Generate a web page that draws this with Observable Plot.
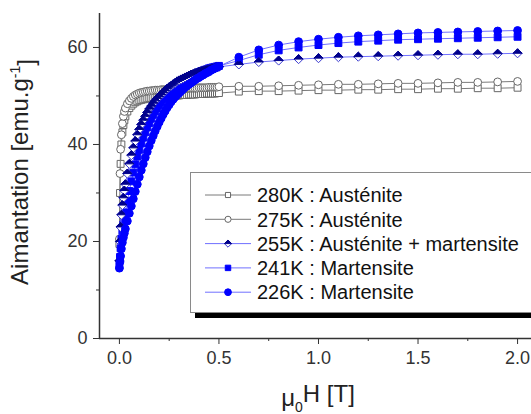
<!DOCTYPE html>
<html><head><meta charset="utf-8">
<script src="https://cdn.jsdelivr.net/npm/d3@7"></script>
<script src="https://cdn.jsdelivr.net/npm/@observablehq/plot@0.6"></script>
<style>body{margin:0;background:#fff}#chart{position:relative;width:531px;height:414px;overflow:hidden}</style>
</head><body><div id="chart"></div>
<script>
// Applied field mu0H [T]
const fieldT = [0,0.003,0.006,0.01,0.015,0.02,0.025,0.03,
  0.04,0.05,0.06,0.07,0.08,0.09,0.10,
  0.11,0.12,0.13,0.14,0.15,0.16,0.17,0.18,0.19,0.20,
  0.21,0.22,0.23,0.24,0.25,0.26,0.27,0.28,0.29,0.30,
  0.31,0.32,0.33,0.34,0.35,0.36,0.37,0.38,0.39,0.40,
  0.41,0.42,0.43,0.44,0.45,0.46,0.47,0.48,0.49,0.50,
  0.6,0.7,0.8,0.9,1.0,1.1,1.2,1.3,1.4,1.5,1.6,1.7,1.8,1.9,2.0];
// Magnetization [emu/g]
const m280 = [19.5,30.0,36.0,40.0,42.5,44.0,45.0,45.8,
  46.8,47.5,48.0,48.4,48.7,48.9,49.1,
  49.2,49.3,49.4,49.5,49.6,49.6,49.7,49.7,49.8,49.8,
  49.9,49.9,49.9,50.0,50.0,50.0,50.1,50.1,50.1,50.1,
  50.2,50.2,50.2,50.2,50.3,50.3,50.3,50.3,50.4,50.4,
  50.4,50.4,50.4,50.5,50.5,50.5,50.5,50.5,50.6,50.6,
  50.9,51.0,51.0,51.1,51.2,51.2,51.3,51.3,51.4,51.4,51.5,51.5,51.6,51.6,51.7];
const m275 = [20.5,34.0,39.0,42.0,44.3,45.8,46.8,47.5,
  48.4,49.0,49.5,49.9,50.2,50.4,50.6,
  50.7,50.8,50.9,51.0,51.0,51.1,51.1,51.2,51.2,51.2,
  51.3,51.3,51.3,51.3,51.4,51.4,51.4,51.4,51.4,51.5,
  51.5,51.5,51.5,51.5,51.6,51.6,51.6,51.6,51.6,51.7,
  51.7,51.7,51.7,51.7,51.8,51.8,51.8,51.8,51.8,51.9,
  52.0,52.0,52.1,52.2,52.3,52.4,52.4,52.5,52.6,52.6,52.7,52.8,52.8,52.9,53.0];
const m255 = [16.0,20.0,23.0,25.5,27.5,29.0,30.5,31.8,
  34.0,36.0,37.8,39.3,40.7,42.0,43.1,
  44.1,45.0,45.8,46.6,47.3,47.9,48.5,49.0,49.5,49.9,
  50.3,50.7,51.1,51.5,51.8,52.1,52.4,52.7,53.0,53.2,
  53.4,53.6,53.8,54.0,54.2,54.4,54.5,54.7,54.8,55.0,
  55.1,55.2,55.3,55.4,55.5,55.6,55.7,55.8,55.9,56.0,
  56.5,57.0,57.3,57.6,57.8,58.0,58.1,58.2,58.3,58.4,58.5,58.6,58.6,58.7,58.8];
const m241 = [15.0,16.8,18.6,20.5,22.1,23.5,24.8,26.0,
  28.3,30.4,32.4,34.2,35.9,37.5,38.9,
  40.2,41.4,42.5,43.5,44.4,45.3,46.1,46.8,47.5,48.1,
  48.7,49.3,49.8,50.3,50.7,51.1,51.5,51.9,52.2,52.5,
  52.8,53.1,53.4,53.6,53.9,54.1,54.3,54.5,54.7,54.9,
  55.1,55.2,55.4,55.5,55.7,55.8,55.9,56.0,56.1,56.2,
  57.3,58.5,59.4,60.0,60.5,60.9,61.2,61.4,61.6,61.7,61.8,61.9,62.0,62.1,62.2];
const m226 = [14.5,15.8,17.0,18.5,19.8,20.8,21.7,22.6,
  24.2,25.8,27.3,28.8,30.3,31.8,33.3,
  34.7,36.0,37.3,38.5,39.7,40.8,41.8,42.8,43.7,44.6,
  45.4,46.2,46.9,47.6,48.2,48.8,49.3,49.8,50.2,50.6,
  51.0,51.4,51.8,52.1,52.4,52.7,53.0,53.3,53.6,53.8,
  54.1,54.3,54.6,54.8,55.0,55.3,55.5,55.7,55.9,56.1,
  58.0,59.5,60.5,61.2,61.7,62.1,62.4,62.6,62.8,63.0,63.1,63.2,63.3,63.4,63.5];

const seriesNames = ["280K : Austénite","275K : Austénite","255K : Austénite + martensite","241K : Martensite","226K : Martensite"];
const yTicks = [0,20,40,60];
const yMinorTicks = [10,30,50];
const xTicks = [0,0.5,1,1.5,2];
const xMinorTicks = [0.25,0.75,1.25,1.75];

const rows = vals => fieldT.map((h,i)=>({h, m: vals[i]}));

const diamondSym = {draw(ctx,size){const r=Math.sqrt(size)*0.66;ctx.moveTo(0,-r);ctx.lineTo(r,0);ctx.lineTo(0,r);ctx.lineTo(-r,0);ctx.closePath();}};
const halfTopSym = {draw(ctx,size){const r=Math.sqrt(size)*0.66;ctx.moveTo(0,-r);ctx.lineTo(r,0);ctx.lineTo(-r,0);ctx.closePath();}};

const GRAY_LINE="#7a7a7a", GRAY_MK="#666", BLUE="#0000ff", BLUE_LINE="#7070ff", NAVY="#00008c", DIA_STROKE="#3a3ad0";

const series = [
  {name: seriesNames[0], data: rows(m280), line: GRAY_LINE, marks: [{symbol:"square", fill:"#fff", stroke:GRAY_MK}]},
  {name: seriesNames[1], data: rows(m275), line: GRAY_LINE, marks: [{symbol:"circle", fill:"#fff", stroke:GRAY_MK}]},
  {name: seriesNames[3], data: rows(m241), line: BLUE_LINE, marks: [{symbol:"square", fill:BLUE, stroke:BLUE}]},
  {name: seriesNames[2], data: rows(m255), line: BLUE_LINE, marks: [{symbol:diamondSym, fill:"#fff", stroke:DIA_STROKE},{symbol:halfTopSym, fill:NAVY, stroke:NAVY}]},
  {name: seriesNames[4], data: rows(m226), line: BLUE_LINE, marks: [{symbol:"circle", fill:BLUE, stroke:BLUE}]}
];

const dataMarks = [];
for (const s of series) {
  dataMarks.push(Plot.line(s.data, {x:"h", y:"m", stroke:s.line, strokeWidth:1}));
  for (const mk of s.marks) {
    dataMarks.push(Plot.dot(s.data, {x:"h", y:"m", r:3.9, symbol:mk.symbol, fill:mk.fill, stroke:mk.stroke, strokeWidth:1}));
  }
}

const plot = Plot.plot({
  width: 531, height: 414,
  marginLeft: 99, marginRight: 0, marginTop: 13, marginBottom: 76,
  x: {domain: [-0.1, 2.07]},
  y: {domain: [0, 67]},
  style: {fontFamily: '"Liberation Sans", Arial, sans-serif', fontSize: "18px", color: "#333", background: "#fff", overflow: "visible"},
  marks: [
    Plot.axisX({ticks: xTicks, tickFormat: d3.format(".1f"), tickSize: 6, tickPadding: 7, label: null, fontSize: 18}),
    Plot.axisX({ticks: xMinorTicks, tickFormat: () => "", tickSize: 3, label: null}),
    Plot.axisY({ticks: yTicks, tickSize: 6, tickPadding: 6, label: null, fontSize: 18}),
    Plot.axisY({ticks: yMinorTicks, tickFormat: () => "", tickSize: 3, label: null}),
    ...dataMarks,
    Plot.ruleX([-0.1], {stroke: "#333", strokeWidth: 1.5}),
    Plot.ruleY([0], {stroke: "#333", strokeWidth: 1.5})
  ]
});
document.getElementById("chart").appendChild(plot);

// Axis titles and in-plot legend
const svg = d3.select(plot);
const FONT = '"Liberation Sans", Arial, sans-serif';
const yl = svg.append("text").attr("transform","translate(28,172) rotate(-90)")
  .attr("text-anchor","middle").attr("font-family",FONT).attr("font-size",24).attr("fill","#222");
yl.append("tspan").text("Aimantation [emu.g");
yl.append("tspan").attr("dy","-0.55em").attr("font-size",14).text("-1");
yl.append("tspan").attr("dy","0.55em").text("]");

const xl = svg.append("text").attr("x",318).attr("y",406)
  .attr("text-anchor","middle").attr("font-family",FONT).attr("font-size",24).attr("fill","#222");
xl.append("tspan").text("μ");
xl.append("tspan").attr("dy","0.4em").attr("font-size",14).text("0");
xl.append("tspan").attr("dy","-0.4em").text("H [T]");

const lg = svg.append("g").attr("text-anchor","start");
lg.append("rect").attr("x",195).attr("y",313).attr("width",345).attr("height",5).attr("fill","#000");
lg.append("rect").attr("x",190.5).attr("y",172.5).attr("width",350).attr("height",140).attr("fill","#fff").attr("stroke","#8a8a8a");
const legendItems = [
  {name: seriesNames[0], line: GRAY_LINE, sym: d3.symbolSquare, size: 26, fill:"#fff", stroke:GRAY_MK},
  {name: seriesNames[1], line: GRAY_LINE, sym: d3.symbolCircle, size: 30, fill:"#fff", stroke:GRAY_MK},
  {name: seriesNames[2], line: BLUE_LINE, sym: diamondSym, size: 30, fill:"#fff", stroke:DIA_STROKE, half: true},
  {name: seriesNames[3], line: BLUE_LINE, sym: d3.symbolSquare, size: 30, fill:BLUE, stroke:BLUE},
  {name: seriesNames[4], line: BLUE_LINE, sym: d3.symbolCircle, size: 36, fill:BLUE, stroke:BLUE}
];
legendItems.forEach((it,i) => {
  const y = 195 + i*24.3;
  lg.append("line").attr("x1",205).attr("x2",251).attr("y1",y).attr("y2",y).attr("stroke",it.line).attr("stroke-width",1);
  lg.append("path").attr("transform",`translate(228,${y})`).attr("d",d3.symbol(it.sym, it.size)()).attr("fill",it.fill).attr("stroke",it.stroke);
  if (it.half) lg.append("path").attr("transform",`translate(228,${y})`).attr("d",d3.symbol(halfTopSym, it.size)()).attr("fill",NAVY).attr("stroke",NAVY);
  lg.append("text").attr("x",257).attr("y",y).attr("dy","0.36em").attr("text-anchor","start").attr("font-family",FONT).attr("font-size",20).attr("fill","#111").text(it.name);
});
</script>
</body></html>
